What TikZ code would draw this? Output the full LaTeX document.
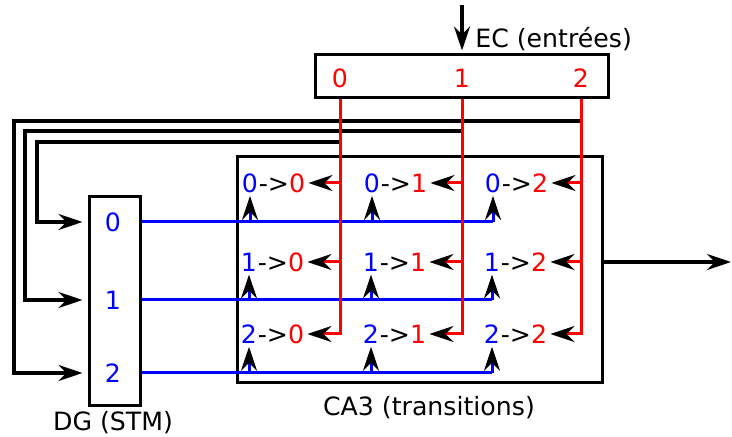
\documentclass[tikz,border=0pt]{standalone}
\usepackage{fontspec}
\setmainfont{DejaVu Sans}
\usetikzlibrary{arrows.meta,positioning}
\definecolor{stmblue}{HTML}{0000FF}
\definecolor{inred}{HTML}{FF0000}
\tikzset{box/.style={draw=black,line width=1.5pt,inner sep=0pt},lbl/.style={font=\fontsize{12.6}{15}\selectfont,inner sep=0pt},src/.style={lbl,text=stmblue},inp/.style={lbl,text=inred},arr/.style={-{Stealth[length=12pt,width=8pt,inset=4pt,color=black]},line width=1.6pt,shorten >=1.5pt},bluewire/.style={line width=1.5pt,draw=stmblue},bluearr/.style={arr,line width=1.5pt,draw=stmblue},redarr/.style={arr,line width=1.5pt,draw=inred}}
\begin{document}
\begin{tikzpicture}[x=0.5pt,y=-0.5pt]
\useasboundingbox (0,0) rectangle (732,437);
% boxes
\node[box,minimum width=146.5pt,minimum height=21.5pt] (ec) at (461.5,76.5) {};
\node[box,minimum width=182.5pt,minimum height=113pt] (ca3) at (419.5,270) {};
\node[box,minimum width=25.5pt,minimum height=104pt] (dg) at (114.5,301) {};
\node[lbl,anchor=west] (eclbl) at (475,39) {EC (entrées)};
\node[lbl] (ca3lbl) at (429,408) {CA3 (transitions)};
\node[lbl] (dglbl) at (113,423) {DG (STM)};
% entrees
\node[inp] (e0) at (340,78) {0};
\node[inp] (e1) at (462,78) {1};
\node[inp] (e2) at (581,78) {2};
% etats
\node[src] (g0) at (113,222) {0};
\node[src] (g1) at (113,300) {1};
\node[src] (g2) at (113,373) {2};
% transitions
\node[src] (s00) at (250,183) {0}; \node[lbl,right=0pt of s00] (t00) {->\textcolor{inred}{0}};
\node[src] (s01) at (372,183) {0}; \node[lbl,right=0pt of s01] (t01) {->\textcolor{inred}{1}};
\node[src] (s02) at (493,183) {0}; \node[lbl,right=0pt of s02] (t02) {->\textcolor{inred}{2}};
\node[src] (s10) at (249,262) {1}; \node[lbl,right=0pt of s10] (t10) {->\textcolor{inred}{0}};
\node[src] (s11) at (371,262) {1}; \node[lbl,right=0pt of s11] (t11) {->\textcolor{inred}{1}};
\node[src] (s12) at (492,262) {1}; \node[lbl,right=0pt of s12] (t12) {->\textcolor{inred}{2}};
\node[src] (s20) at (249,334) {2}; \node[lbl,right=0pt of s20] (t20) {->\textcolor{inred}{0}};
\node[src] (s21) at (371,334) {2}; \node[lbl,right=0pt of s21] (t21) {->\textcolor{inred}{1}};
\node[src] (s22) at (492,334) {2}; \node[lbl,right=0pt of s22] (t22) {->\textcolor{inred}{2}};
\coordinate (in) at (462,5);
\coordinate (out) at (732,262);
% entree et sortie
\draw[arr] (in) -- (e1 |- ec.north);
\draw[arr,shorten >=0.5pt] (ca3.east |- s10) -- (out);
% retour vers DG
\draw[arr,shorten >=2.5pt] (e2 |- 0,121) -- (14,121) |- (dg.west |- g2);
\draw[arr,shorten >=2.5pt] (e1 |- 0,131) -- (25,131) |- (dg.west |- g1);
\draw[arr,shorten >=2.5pt] (e0 |- 0,142) -- (37,142) |- (dg.west |- g0);
% etat courant
\draw[bluewire] (dg.east |- g0) -- (s02 |- g0);
\draw[bluewire] (dg.east |- g1) -- (s12 |- g1);
\draw[bluewire] (dg.east |- g2) -- (s22 |- g2);
\draw[bluearr] (s00 |- g0) -- (s00); \draw[bluearr] (s01 |- g0) -- (s01); \draw[bluearr] (s02 |- g0) -- (s02);
\draw[bluearr] (s10 |- g1) -- (s10); \draw[bluearr] (s11 |- g1) -- (s11); \draw[bluearr] (s12 |- g1) -- (s12);
\draw[bluearr] (s20 |- g2) -- (s20); \draw[bluearr] (s21 |- g2) -- (s21); \draw[bluearr] (s22 |- g2) -- (s22);
% entree courante
\draw[redarr] (e0 |- ec.south) -- (e0 |- t20) -- (t20);
\draw[redarr] (e1 |- ec.south) -- (e1 |- t21) -- (t21);
\draw[redarr] (e2 |- ec.south) -- (e2 |- t22) -- (t22);
\draw[redarr] (e0 |- t00) -- (t00); \draw[redarr] (e0 |- t10) -- (t10);
\draw[redarr] (e1 |- t01) -- (t01); \draw[redarr] (e1 |- t11) -- (t11);
\draw[redarr] (e2 |- t02) -- (t02); \draw[redarr] (e2 |- t12) -- (t12);
\end{tikzpicture}
\end{document}
